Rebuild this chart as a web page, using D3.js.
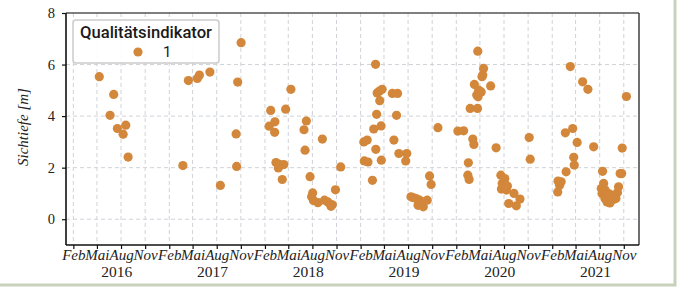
<!DOCTYPE html>
<html><head><meta charset="utf-8">
<script src="https://cdn.jsdelivr.net/npm/d3@7"></script>
<style>body{margin:0;background:#fff;} svg{display:block}</style>
</head><body>
<svg id="c" width="679" height="289"></svg>
<script>
const dates = [
"2016-05-10","2016-06-20","2016-07-04","2016-07-18","2016-08-09","2016-08-19","2016-08-28",
"2017-03-25","2017-04-15","2017-05-19","2017-05-27","2017-07-06","2017-08-15","2017-10-14","2017-10-16","2017-10-20","2017-11-02",
"2018-02-17","2018-02-23","2018-03-10","2018-03-11","2018-03-15","2018-03-24","2018-03-28","2018-04-08","2018-04-14","2018-04-21","2018-05-11","2018-06-30","2018-07-04","2018-07-09","2018-07-23","2018-07-29","2018-08-02","2018-08-05","2018-08-22","2018-09-08","2018-09-16","2018-09-29","2018-10-09","2018-10-11","2018-10-16","2018-10-28","2018-11-17",
"2019-02-13","2019-02-15","2019-02-26","2019-03-01","2019-03-18","2019-03-23","2019-03-30","2019-03-31","2019-04-03","2019-04-05","2019-04-14","2019-04-15","2019-04-20","2019-04-21","2019-04-24","2019-06-02","2019-06-08","2019-06-18","2019-06-22","2019-06-27","2019-07-23","2019-07-27","2019-08-12","2019-08-20","2019-09-01","2019-09-08","2019-09-14","2019-09-20","2019-09-27","2019-09-28","2019-10-13","2019-10-22","2019-10-28","2019-11-23",
"2020-02-07","2020-02-29","2020-03-16","2020-03-18","2020-03-21","2020-03-25","2020-04-04","2020-04-08","2020-04-10","2020-04-19","2020-04-22","2020-04-23","2020-04-24","2020-04-26","2020-05-06","2020-05-09","2020-05-12","2020-05-15","2020-06-11","2020-07-02","2020-07-20","2020-07-22","2020-07-25","2020-08-04","2020-08-05","2020-08-10","2020-08-14","2020-08-19","2020-09-08","2020-09-17","2020-10-01","2020-11-05","2020-11-09",
"2021-02-22","2021-02-23","2021-03-01","2021-03-07","2021-03-23","2021-03-26","2021-04-11","2021-04-20","2021-04-24","2021-04-26","2021-05-07","2021-05-28","2021-06-17","2021-07-09","2021-08-07","2021-08-10","2021-08-12","2021-08-16","2021-08-21","2021-08-22","2021-08-25","2021-08-28","2021-08-29","2021-09-01","2021-09-05","2021-09-07","2021-09-09","2021-09-12","2021-09-17","2021-09-22","2021-09-26","2021-10-02","2021-10-08","2021-10-12","2021-10-18","2021-10-24","2021-10-26","2021-11-11"
];
const depths = [
5.53,4.03,4.84,3.52,3.30,3.65,2.41,
2.08,5.38,5.46,5.59,5.71,1.31,3.31,2.05,5.32,6.85,
3.61,4.22,3.37,3.78,2.20,1.99,2.13,1.54,2.12,4.27,5.04,3.47,2.68,3.81,1.65,0.87,1.02,0.73,0.64,3.11,0.74,0.67,0.58,0.50,0.56,1.14,2.03,
3.00,2.26,3.07,2.22,1.51,3.50,6.01,2.71,4.07,4.90,4.97,4.60,3.62,2.29,5.04,4.88,3.07,4.03,4.88,2.55,2.26,2.55,0.87,0.84,0.80,0.54,0.74,0.61,0.67,0.48,0.74,1.68,1.35,3.55,
3.42,3.43,1.71,2.19,1.54,4.30,3.11,2.90,5.23,4.82,4.30,6.52,4.75,5.01,4.94,5.53,5.59,5.85,5.17,2.77,1.71,1.17,1.39,1.58,1.35,1.13,1.29,0.61,1.00,0.52,0.78,3.17,2.33,
1.06,1.48,1.32,1.45,3.35,1.84,5.92,3.52,2.40,2.10,2.98,5.33,5.04,2.81,1.19,1.00,1.86,1.39,0.80,1.13,0.85,0.95,0.67,0.70,0.74,0.98,0.63,0.85,0.93,0.77,0.88,0.80,1.04,1.26,1.77,1.77,2.76,4.76
];
const monthTickLabels = ["Feb","Mai","Aug","Nov"];
const monthTickIndex = [1,4,7,10];
const years = [2016,2017,2018,2019,2020,2021];
const yTicks = [0,2,4,6,8];
const legendTitle = "Qualitätsindikator";
const legendLabel = "1";
const yLabel = "Sichtiefe [m]";

const COLOR = "#d3873b";
const svg = d3.select("#c");
const L=66,R=639,T=13,B=245;
const parse = d3.utcParse("%Y-%m-%d");
const x = d3.scaleUtc().domain([new Date(Date.UTC(2016,0,4)), new Date(Date.UTC(2021,11,29))]).range([L,R]);
const y = d3.scaleLinear().domain([-1,8]).range([B,T]);

// outer panel border
svg.append("rect").attr("x",-4).attr("y",-4).attr("width",679).attr("height",289)
  .attr("fill","#fff").attr("stroke","#c9d0bb").attr("stroke-width",3);

const xTicks = [];
years.forEach(yr => monthTickIndex.forEach(m => xTicks.push(new Date(Date.UTC(yr,m,1)))));

// grid
const grid = svg.append("g").attr("stroke","#cfd2d8").attr("stroke-width",1).attr("stroke-dasharray","4,3");
grid.selectAll("line.v").data(xTicks).join("line")
  .attr("x1",d=>x(d)).attr("x2",d=>x(d)).attr("y1",T).attr("y2",B);
grid.selectAll("line.h").data(yTicks.filter(v=>v<8)).join("line").attr("class","h")
  .attr("x1",L).attr("x2",R).attr("y1",d=>y(d)).attr("y2",d=>y(d));

// points
svg.append("g").selectAll("circle").data(dates.map((d,i)=>({d:parse(d),v:depths[i]}))).join("circle")
  .attr("cx",p=>x(p.d)).attr("cy",p=>y(p.v)).attr("r",4.6).attr("fill",COLOR);

// axes
const xa = svg.append("g").attr("transform",`translate(0,${B})`)
  .call(d3.axisBottom(x).tickValues(xTicks).tickSize(4)
    .tickFormat(d=>monthTickLabels[monthTickIndex.indexOf(d.getUTCMonth())]));
xa.select(".domain").remove();
xa.selectAll(".tick line").attr("stroke","#111").attr("stroke-width",1.2);
xa.selectAll(".tick text").attr("y",14.5).attr("dy",null)
  .attr("font-family","'Liberation Serif',serif").attr("font-style","italic").attr("font-size",15).attr("fill","#222");

svg.append("g").selectAll("text").data(years).join("text")
  .attr("x",yr=>x(new Date(Date.UTC(yr,6,16)))).attr("y",277)
  .attr("text-anchor","middle").attr("font-family","'Liberation Serif',serif").attr("font-size",15.5).attr("fill","#222")
  .text(d=>d);

const ya = svg.append("g").attr("transform",`translate(${L},0)`)
  .call(d3.axisLeft(y).tickValues(yTicks).tickSize(4).tickPadding(7).tickFormat(d3.format("d")));
ya.select(".domain").remove();
ya.selectAll(".tick line").attr("stroke","#111").attr("stroke-width",1.2);
ya.selectAll(".tick text").attr("font-family","'Liberation Serif',serif").attr("font-size",14.5).attr("fill","#222");

// spines
svg.append("line").attr("x1",L).attr("x2",R).attr("y1",T).attr("y2",T).attr("stroke","#555").attr("stroke-width",1.6);
svg.append("line").attr("x1",R).attr("x2",R).attr("y1",T).attr("y2",B).attr("stroke","#333").attr("stroke-width",1.4);
svg.append("line").attr("x1",L).attr("x2",L).attr("y1",T).attr("y2",B).attr("stroke","#111").attr("stroke-width",1.6);
svg.append("line").attr("x1",L).attr("x2",R).attr("y1",B).attr("y2",B).attr("stroke","#111").attr("stroke-width",1.6);

// y label
svg.append("text").attr("transform",`translate(28,${(T+B)/2 - 2}) rotate(-90)`)
  .attr("text-anchor","middle").attr("font-family","'Liberation Serif',serif").attr("font-style","italic")
  .attr("font-size",15).attr("fill","#222").text(yLabel);

// legend
const lg = svg.append("g");
lg.append("rect").attr("x",73).attr("y",20).attr("width",146).attr("height",43).attr("rx",3)
  .attr("fill","#fff").attr("fill-opacity",0.9).attr("stroke","#cccccc").attr("stroke-width",1.5);
lg.append("text").attr("x",146).attr("y",37.5).attr("text-anchor","middle")
  .attr("font-family","Roboto, sans-serif").attr("font-weight",500).attr("font-size",16).attr("fill","#1a1a1a")
  .attr("textLength",132).attr("lengthAdjust","spacingAndGlyphs").text(legendTitle);
lg.append("circle").attr("cx",138).attr("cy",52).attr("r",4.6).attr("fill",COLOR);
lg.append("text").attr("x",163).attr("y",57).attr("font-family","Roboto, sans-serif").attr("font-size",15).attr("fill","#1a1a1a").text(legendLabel);
</script>
</body></html>
